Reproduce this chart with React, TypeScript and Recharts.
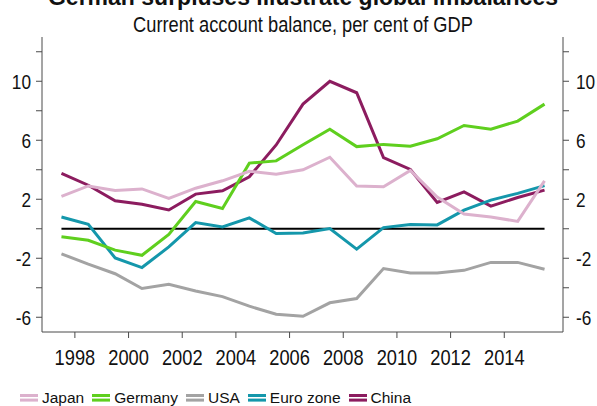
import React from 'react';
import { LineChart, Line, XAxis, YAxis, ReferenceLine, Legend } from 'recharts';

const years = [1997, 1998, 1999, 2000, 2001, 2002, 2003, 2004, 2005, 2006, 2007, 2008, 2009, 2010, 2011, 2012, 2013, 2014, 2015];
const japan = [2.2, 2.9, 2.6, 2.7, 2.05, 2.75, 3.25, 3.9, 3.7, 4.0, 4.85, 2.9, 2.85, 3.95, 2.15, 1.0, 0.8, 0.5, 3.25];
const germany = [-0.55, -0.78, -1.45, -1.8, -0.38, 1.85, 1.38, 4.45, 4.6, 5.7, 6.75, 5.57, 5.72, 5.6, 6.1, 7.0, 6.75, 7.3, 8.45];
const usa = [-1.7, -2.4, -3.05, -4.05, -3.77, -4.22, -4.6, -5.25, -5.8, -5.93, -5.02, -4.73, -2.7, -3.0, -3.0, -2.82, -2.28, -2.28, -2.75];
const euroZone = [0.8, 0.3, -1.98, -2.63, -1.23, 0.42, 0.12, 0.74, -0.32, -0.29, 0.01, -1.38, 0.08, 0.28, 0.26, 1.26, 1.94, 2.4, 2.92];
const china = [3.75, 2.95, 1.9, 1.66, 1.27, 2.35, 2.57, 3.52, 5.68, 8.45, 10.0, 9.22, 4.82, 4.02, 1.78, 2.5, 1.53, 2.12, 2.62];

const xTickLabels = [1998, 2000, 2002, 2004, 2006, 2008, 2010, 2012, 2014];
const yTicks = [-6, -4, -2, 0, 2, 4, 6, 8, 10, 12];
const yTickLabels = [10, 6, 2, -2, -6];

const series = [
  { key: 'japan', name: 'Japan', color: '#dcb1cd' },
  { key: 'germany', name: 'Germany', color: '#5fcf1e' },
  { key: 'usa', name: 'USA', color: '#a3a3a3' },
  { key: 'euro', name: 'Euro zone', color: '#1497ab' },
  { key: 'china', name: 'China', color: '#8c1c5f' },
];

const data = years.map((year, i) => ({
  year,
  japan: japan[i],
  germany: germany[i],
  usa: usa[i],
  euro: euroZone[i],
  china: china[i],
}));

const FONT = "'Liberation Sans', Arial, sans-serif";
const AXIS = '#4a4a4a';
const TXT = '#111';

const yFmt = (v: number) => (yTickLabels.includes(v) ? String(v) : '');

const XTick = (props: any) => {
  const { x, y, payload } = props;
  return (
    <g transform={`translate(${x},${y + 15}) scale(0.83,1)`}>
      <text x={0} y={0} textAnchor="middle" fontFamily={FONT} fontSize={22} fill={TXT}>
        {String(payload.value + 0.5)}
      </text>
    </g>
  );
};

const YTick = (props: any) => {
  const { x, y, payload, side } = props;
  const label = yFmt(payload.value);
  if (!label) return null;
  return (
    <g transform={`translate(${x},${y + 7.5}) scale(0.82,1)`}>
      <text x={0} y={0} textAnchor={side === 'right' ? 'start' : 'end'} fontFamily={FONT} fontSize={21} fill={TXT}>
        {label}
      </text>
    </g>
  );
};

const LegendContent = () => (
  <div style={{ display: 'flex', alignItems: 'center', height: 22, fontFamily: FONT, fontSize: 15.5, color: TXT, whiteSpace: 'nowrap' }}>
    {series.map((s) => (
      <div key={s.key} style={{ display: 'flex', alignItems: 'center', marginRight: 8 }}>
        <svg width={18} height={8} style={{ marginRight: 4, display: 'block' }}>
          <rect x={0} y={0} width={18} height={3} fill={s.color} />
          <rect x={0} y={4.6} width={18} height={3} fill={s.color} />
        </svg>
        <span>{s.name}</span>
      </div>
    ))}
  </div>
);

export default function App() {
  const drawOrder = [...series].reverse();
  return (
    <div style={{ position: 'absolute', left: 0, top: 0, width: 597, height: 406, overflow: 'hidden', background: '#fff' }}>
      <LineChart width={597} height={406} data={data} margin={{ top: 37, right: 0, bottom: 0, left: 0 }}>
        <XAxis
          dataKey="year"
          type="number"
          domain={[1996.275, 2015.688]}
          allowDataOverflow
          ticks={xTickLabels.map((y) => y - 0.5)}
          interval={0}
          height={74}
          tickSize={6}
          tickMargin={12}
          stroke={AXIS}
          tick={<XTick />}
        />
        <YAxis
          yAxisId="left"
          type="number"
          domain={[-7, 13]}
          allowDataOverflow
          ticks={yTicks}
          interval={0}
          width={42}
          tickSize={6}
          tickMargin={5}
          stroke={AXIS}
          tick={<YTick side="left" />}
        />
        <YAxis
          yAxisId="right"
          orientation="right"
          type="number"
          domain={[-7, 13]}
          allowDataOverflow
          ticks={yTicks}
          interval={0}
          width={34}
          tickSize={6}
          tickMargin={7}
          stroke={AXIS}
          tick={<YTick side="right" />}
        />
        <ReferenceLine
          yAxisId="left"
          segment={[{ x: years[0], y: 0 }, { x: years[years.length - 1], y: 0 }]}
          stroke="#000"
          strokeWidth={2}
        />
        {drawOrder.map((s) => (
          <Line
            key={s.key}
            yAxisId="left"
            dataKey={s.key}
            name={s.name}
            stroke={s.color}
            strokeWidth={3}
            dot={false}
            activeDot={false}
            type="linear"
            isAnimationActive={false}
          />
        ))}
        <Legend
          layout="horizontal"
          verticalAlign="middle"
          align="center"
          content={<LegendContent />}
          wrapperStyle={{ left: 20, top: 386.5, width: 560, height: 22 }}
        />
      </LineChart>
      <svg width={597} height={40} style={{ position: 'absolute', left: 0, top: 0, pointerEvents: 'none' }}>
        <text x={303} y={5} textAnchor="middle" fontFamily={FONT} fontWeight={700} fontSize={23} fill={TXT}>
          German surpluses illustrate global imbalances
        </text>
        <g transform="translate(303,32) scale(0.83,1)">
          <text x={0} y={0} textAnchor="middle" fontFamily={FONT} fontSize={22} fill={TXT}>
            Current account balance, per cent of GDP
          </text>
        </g>
      </svg>
    </div>
  );
}
